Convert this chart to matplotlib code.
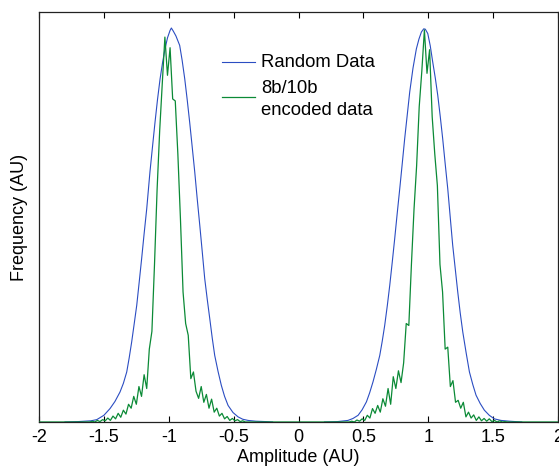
import numpy as np
import matplotlib
matplotlib.use("Agg")
import matplotlib.pyplot as plt

plt.rcParams['font.family'] = ['Liberation Sans', 'DejaVu Sans']

# ---- data ----
x_limits = [-2, 2]
x_ticks = [-2, -1.5, -1, -0.5, 0, 0.5, 1, 1.5, 2]
x_tick_labels = ['-2', '-1.5', '-1', '-0.5', '0', '0.5', '1', '1.5', '2']

random_left_x = [-1.80, -1.70, -1.60, -1.555, -1.50, -1.453, -1.415, -1.376, -1.350, -1.324,
                 -1.305, -1.286, -1.267, -1.247, -1.228, -1.209, -1.190, -1.170, -1.145, -1.125,
                 -1.106, -1.087, -1.067, -1.048, -1.029, -1.010, -0.990, -0.980, -0.965, -0.945,
                 -0.916, -0.897, -0.877, -0.858, -0.839, -0.820, -0.800, -0.781, -0.761, -0.742,
                 -0.723, -0.703, -0.684, -0.665, -0.646, -0.620, -0.595, -0.570, -0.543, -0.505,
                 -0.466, -0.430, -0.389, -0.330, -0.250, -0.200]
random_left_y = [0.000, 0.001, 0.003, 0.006, 0.017, 0.034, 0.052, 0.076, 0.098, 0.127,
                 0.163, 0.203, 0.248, 0.296, 0.355, 0.415, 0.478, 0.541, 0.635, 0.700,
                 0.761, 0.818, 0.871, 0.912, 0.947, 0.975, 0.994, 1.000, 0.992, 0.980,
                 0.956, 0.918, 0.871, 0.818, 0.761, 0.700, 0.635, 0.567, 0.499, 0.432,
                 0.364, 0.310, 0.262, 0.213, 0.169, 0.128, 0.093, 0.065, 0.042, 0.024,
                 0.013, 0.007, 0.004, 0.002, 0.001, 0.000]

random_right_x = [0.200, 0.300, 0.381, 0.420, 0.459, 0.490, 0.523, 0.548, 0.574, 0.600,
                  0.626, 0.645, 0.664, 0.684, 0.703, 0.722, 0.741, 0.760, 0.780, 0.799,
                  0.818, 0.838, 0.857, 0.882, 0.908, 0.928, 0.947, 0.965, 0.977, 0.996,
                  1.015, 1.034, 1.054, 1.073, 1.092, 1.111, 1.130, 1.150, 1.169, 1.188,
                  1.208, 1.227, 1.246, 1.266, 1.292, 1.317, 1.343, 1.368, 1.400, 1.432,
                  1.470, 1.509, 1.560, 1.625, 1.720]
random_right_y = [0.000, 0.001, 0.004, 0.009, 0.017, 0.031, 0.051, 0.074, 0.102, 0.134,
                  0.169, 0.205, 0.245, 0.295, 0.347, 0.405, 0.465, 0.528, 0.592, 0.655,
                  0.719, 0.780, 0.838, 0.898, 0.947, 0.972, 0.990, 0.998, 0.997, 0.986,
                  0.955, 0.914, 0.873, 0.829, 0.776, 0.719, 0.656, 0.592, 0.520, 0.449,
                  0.388, 0.330, 0.277, 0.228, 0.175, 0.127, 0.095, 0.068, 0.047, 0.030,
                  0.017, 0.008, 0.004, 0.002, 0.000]

# 8b/10b histogram, bins of 0.02 starting at the given amplitude
encoded_left_start = -1.61
encoded_left_y = [0.000, 0.002, 0.000, 0.004, 0.001, 0.006, 0.003, 0.010, 0.004, 0.015,
                  0.008, 0.022, 0.012, 0.030, 0.020, 0.045, 0.035, 0.065, 0.045, 0.090,
                  0.065, 0.120, 0.085, 0.185, 0.230, 0.400, 0.590, 0.740, 0.860, 0.977,
                  0.880, 0.950, 0.820, 0.815, 0.680, 0.515, 0.330, 0.250, 0.220, 0.110,
                  0.127, 0.078, 0.060, 0.090, 0.050, 0.070, 0.035, 0.058, 0.025, 0.035,
                  0.015, 0.022, 0.008, 0.014, 0.004, 0.009, 0.003, 0.006, 0.001, 0.003,
                  0.000, 0.000]
encoded_right_start = 0.39
encoded_right_y = [0.000, 0.002, 0.000, 0.005, 0.002, 0.008, 0.004, 0.017, 0.010, 0.034,
                   0.022, 0.042, 0.025, 0.059, 0.040, 0.085, 0.045, 0.115, 0.085, 0.130,
                   0.100, 0.150, 0.250, 0.245, 0.400, 0.540, 0.650, 0.800, 0.890, 0.995,
                   0.885, 0.945, 0.775, 0.680, 0.600, 0.400, 0.330, 0.185, 0.190, 0.090,
                   0.105, 0.050, 0.055, 0.035, 0.050, 0.013, 0.025, 0.010, 0.018, 0.004,
                   0.013, 0.003, 0.009, 0.002, 0.008, 0.001, 0.004, 0.000, 0.003, 0.000,
                   0.001, 0.000]
bin_width = 0.02

series_labels = ['Random Data', '8b/10b', 'encoded data']

# ---- build series ----
rx = np.array(random_left_x + [np.nan] + random_right_x)
ry = np.array(random_left_y + [np.nan] + random_right_y)

elx = encoded_left_start + bin_width * np.arange(len(encoded_left_y))
erx = encoded_right_start + bin_width * np.arange(len(encoded_right_y))
ex = np.concatenate([[x_limits[0]], elx, erx, [x_limits[1]]])
ey = np.concatenate([[0.0], encoded_left_y, encoded_right_y, [0.0]])

blue = '#2b4dc2'
green = '#0b8a36'

# ---- figure ----
fig = plt.figure(figsize=(5.59, 4.68), dpi=100)
ax = fig.add_axes([0.0698, 0.0983, 0.9285, 0.8760])

ax.plot(rx, ry, color=blue, lw=0.8, zorder=2)
ax.plot(ex, ey, color=green, lw=0.9, zorder=3)

ax.set_xlim(x_limits)
ax.set_ylim(0, 1.0406)
ax.set_xticks(x_ticks)
ax.set_xticklabels(x_tick_labels, fontsize=13)
ax.set_yticks([])
ax.tick_params(axis='x', direction='in', top=True, length=4, width=0.8, pad=5)
for s in ax.spines.values():
    s.set_linewidth(0.9)
    s.set_color('#222222')

ax.set_xlabel('Amplitude (AU)', fontsize=13, labelpad=2.5)
ax.set_ylabel('Frequency (AU)', fontsize=13, labelpad=8)

# ---- legend (no frame), drawn in axes coordinates ----
tr = ax.transAxes
ax.plot([0.3526, 0.4162], [0.878, 0.878], color=blue, lw=0.8, transform=tr)
ax.plot([0.3526, 0.4162], [0.7927, 0.7927], color=green, lw=0.9, transform=tr)
ax.text(0.4277, 0.876, series_labels[0], transform=tr, fontsize=13.3, va='center', ha='left')
ax.text(0.4277, 0.8146, series_labels[1], transform=tr, fontsize=13.3, va='center', ha='left')
ax.text(0.4277, 0.761, series_labels[2], transform=tr, fontsize=13.3, va='center', ha='left')

fig.savefig('out.png', dpi=100)
